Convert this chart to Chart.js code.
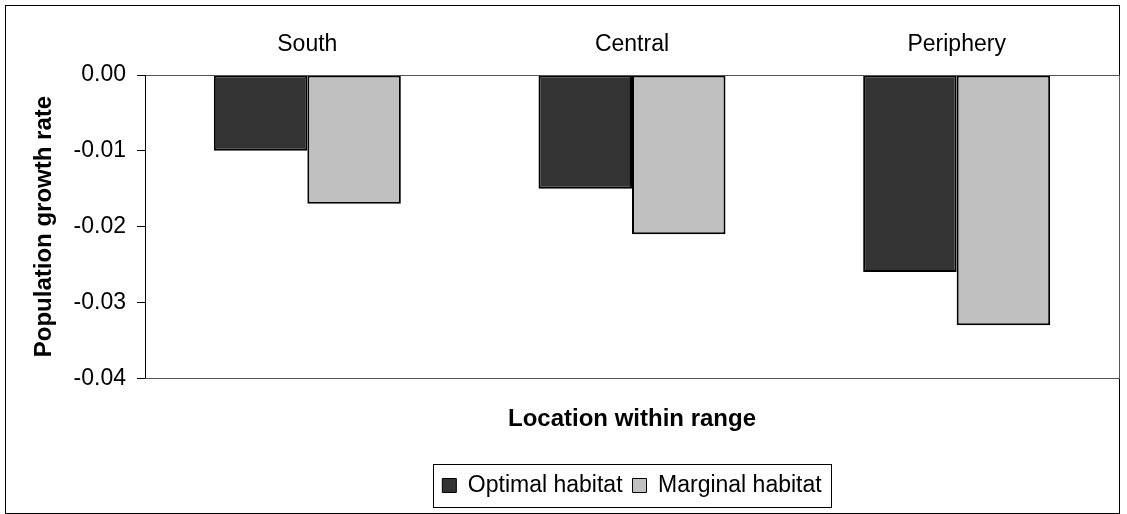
<!DOCTYPE html>
<html>
<head>
<meta charset="utf-8">
<script src="https://cdn.jsdelivr.net/npm/chart.js@4"></script>
<style>
  html, body { margin: 0; padding: 0; background: #fff; }
  #wrap { width: 1127px; height: 514px; }
</style>
</head>
<body>
<div id="wrap"><canvas id="growthChart" width="1127" height="514"></canvas></div>
<script>
// Chart data
const locations = ['South', 'Central', 'Periphery'];
const optimalHabitat = [-0.010, -0.015, -0.026];
const marginalHabitat = [-0.017, -0.021, -0.033];
const yTicks = [0.00, -0.01, -0.02, -0.03, -0.04];

const FONT = "'Liberation Sans', Arial, sans-serif";

// Frame around the whole chart, box around plot area and legend
const framePlugin = {
    id: 'frames',
    afterDraw(chart) {
        const ctx = chart.ctx;
        const a = chart.chartArea;
        ctx.save();
        ctx.lineWidth = 1;
        ctx.strokeStyle = '#000';
        ctx.strokeRect(5.5, 5.5, 1114, 508);
        ctx.strokeStyle = '#555';
        ctx.strokeRect(Math.round(a.left) + 0.5, Math.round(a.top) + 0.5,
            Math.round(a.right - a.left), Math.round(a.bottom - a.top));
        ctx.strokeStyle = '#000';
        ctx.beginPath();
        ctx.moveTo(Math.round(a.left) + 0.5, a.top);
        ctx.lineTo(Math.round(a.left) + 0.5, a.bottom);
        ctx.stroke();

        const boxes = chart.legend.legendHitBoxes;
        if (boxes && boxes.length) {
            const l = Math.min(...boxes.map(b => b.left));
            const r = Math.max(...boxes.map(b => b.left + b.width));
            const cy = boxes[0].top + boxes[0].height / 2;
            ctx.strokeStyle = '#000';
            ctx.strokeRect(Math.round(l - 9) + 0.5, Math.round(cy - 22) + 0.5,
                Math.round(r - l + 19), 43);
        }
        ctx.restore();
    }
};

const ctx = document.getElementById('growthChart').getContext('2d');
new Chart(ctx, {
    type: 'bar',
    data: {
        labels: locations,
        datasets: [
            {
                label: 'Optimal habitat',
                data: optimalHabitat,
                backgroundColor: '#333333',
                borderColor: '#000',
                borderWidth: 2,
                borderSkipped: false,
                categoryPercentage: 0.576,
                barPercentage: 1
            },
            {
                label: 'Marginal habitat',
                data: marginalHabitat,
                backgroundColor: '#c0c0c0',
                borderColor: '#000',
                borderWidth: 2,
                borderSkipped: false,
                categoryPercentage: 0.576,
                barPercentage: 1
            }
        ]
    },
    options: {
        responsive: false,
        animation: false,
        layout: { padding: { left: 5, right: 8, top: 5, bottom: 7 } },
        plugins: {
            legend: {
                position: 'bottom',
                fullSize: false,
                labels: {
                    color: '#000',
                    font: { family: FONT, size: 23 },
                    boxWidth: 14,
                    boxHeight: 14,
                    padding: 10,
                    generateLabels(chart) {
                        return chart.data.datasets.map((ds, i) => ({
                            text: ds.label,
                            fillStyle: ds.backgroundColor,
                            strokeStyle: '#000',
                            lineWidth: 1,
                            fontColor: '#000',
                            datasetIndex: i,
                            hidden: false
                        }));
                    }
                }
            },
            title: {
                display: true,
                position: 'bottom',
                fullSize: false,
                weight: 500,
                text: 'Location within range',
                color: '#000',
                font: { family: FONT, size: 24, weight: 'bold' },
                padding: { top: 27, bottom: 30 }
            },
            tooltip: { enabled: false }
        },
        scales: {
            x: {
                position: 'top',
                grid: { display: false, drawTicks: false },
                border: { display: false },
                ticks: { color: '#000', font: { family: FONT, size: 23 }, padding: 17 },
                afterFit(scale) { scale.height = 70; }
            },
            y: {
                min: -0.04,
                max: 0,
                afterBuildTicks(scale) {
                    scale.ticks = yTicks.map(v => ({ value: v }));
                },
                grid: { drawOnChartArea: false, drawTicks: true, tickLength: 8, color: '#000' },
                border: { display: true, color: '#000' },
                ticks: {
                    color: '#000',
                    font: { family: FONT, size: 23 },
                    padding: 11,
                    callback: v => v.toFixed(2)
                },
                title: {
                    display: true,
                    text: 'Population growth rate',
                    color: '#000',
                    font: { family: FONT, size: 24, weight: 'bold' },
                    padding: { top: 25, bottom: 0 }
                },
                afterFit(scale) { scale.width = 140; }
            }
        }
    },
    plugins: [framePlugin]
});
</script>
</body>
</html>
